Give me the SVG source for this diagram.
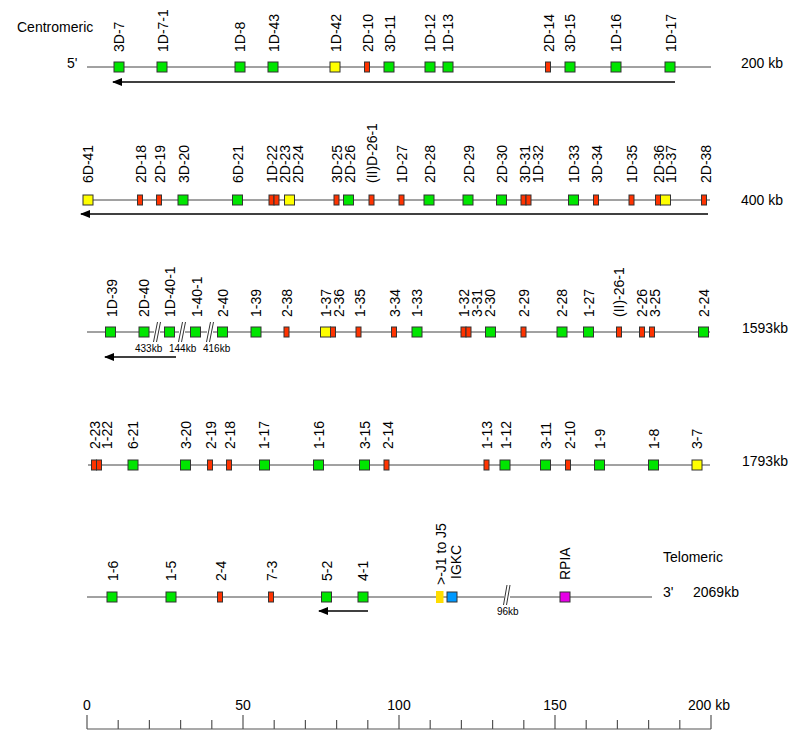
<svg xmlns="http://www.w3.org/2000/svg" width="798" height="742" viewBox="0 0 798 742">
<defs>
<style>
text{font-family:"Liberation Sans",Arial,sans-serif;font-size:14px;fill:#000}
.s{font-size:10px}
.ln{stroke:#444;stroke-width:1;fill:none}
.g{fill:#00e600;stroke:#333;stroke-width:1}
.r{fill:#ff3300;stroke:#333;stroke-width:1}
.y{fill:#ffff00;stroke:#333;stroke-width:1}
.b{fill:#0099ff;stroke:#333;stroke-width:1}
.m{fill:#e600e6;stroke:#333;stroke-width:1}
.arr{stroke:#000;stroke-width:1.6;fill:none}
.brk{stroke:#333;stroke-width:1;fill:none}
.tick{stroke:#555;stroke-width:1.2}
</style>
<marker id="ah" viewBox="0 0 10 8" refX="9" refY="4" markerWidth="10" markerHeight="8" markerUnits="userSpaceOnUse" orient="auto">
<path d="M0,0 L10,4 L0,8 z" fill="#000"/>
</marker>
</defs>
<rect width="798" height="742" fill="#fff"/>

<g id="titles">
<text x="17" y="32">Centromeric</text>
<text x="67" y="68">5'</text>
<text x="741" y="68">200 kb</text>
<text x="741" y="205">400 kb</text>
<text x="742" y="333">1593kb</text>
<text x="742" y="466">1793kb</text>
<text x="663" y="562">Telomeric</text>
<text x="663" y="597">3'</text>
<text x="693" y="597">2069kb</text>
</g>

<g id="connectors">
<line class="ln" x1="87" y1="67" x2="711" y2="67"/>
<line class="ln" x1="87" y1="200" x2="710" y2="200"/>
<line class="ln" x1="87" y1="332" x2="710" y2="332"/>
<line class="ln" x1="88" y1="465" x2="710" y2="465"/>
<line class="ln" x1="87" y1="597" x2="652" y2="597"/>
<line class="arr" x1="675" y1="82" x2="113" y2="82" marker-end="url(#ah)"/>
<line class="arr" x1="708" y1="214" x2="81" y2="214" marker-end="url(#ah)"/>
<line class="arr" x1="176" y1="357" x2="105" y2="357" marker-end="url(#ah)"/>
<line class="arr" x1="368" y1="611" x2="319" y2="611" marker-end="url(#ah)"/>
</g>

<g id="breaks">
<rect x="154" y="326" width="6" height="12" fill="#fff"/>
<path class="brk" d="M153.5,342 L157.5,322 M156.5,342 L160.5,322"/>
<rect x="179" y="326" width="6" height="12" fill="#fff"/>
<path class="brk" d="M178.5,342 L182.5,322 M181.5,342 L185.5,322"/>
<rect x="207" y="326" width="6" height="12" fill="#fff"/>
<path class="brk" d="M206.5,342 L210.5,322 M209.5,342 L213.5,322"/>
<rect x="504" y="591" width="6" height="12" fill="#fff"/>
<path class="brk" d="M503.5,605 L507,585 M506.5,605 L510,585"/>
<text class="s" x="135" y="352">433kb</text>
<text class="s" x="169" y="352">144kb</text>
<text class="s" x="203" y="352">416kb</text>
<text class="s" x="497" y="615">96kb</text>
</g>

<g id="row1">
<rect class="g" x="114" y="62" width="10" height="10"/>
<rect class="g" x="157" y="62" width="10" height="10"/>
<rect class="g" x="235" y="62" width="10" height="10"/>
<rect class="g" x="268" y="62" width="10" height="10"/>
<rect class="y" x="330" y="62" width="10" height="10"/>
<rect class="r" x="364.5" y="62" width="5" height="10"/>
<rect class="g" x="384" y="62" width="10" height="10"/>
<rect class="g" x="425" y="62" width="10" height="10"/>
<rect class="g" x="443" y="62" width="10" height="10"/>
<rect class="r" x="545.5" y="62" width="5" height="10"/>
<rect class="g" x="565" y="62" width="10" height="10"/>
<rect class="g" x="611" y="62" width="10" height="10"/>
<rect class="g" x="665" y="62" width="10" height="10"/>
<text transform="translate(124,52) rotate(-90)">3D-7</text>
<text transform="translate(167.5,52) rotate(-90)">1D-7-1</text>
<text transform="translate(245,52) rotate(-90)">1D-8</text>
<text transform="translate(278.5,52) rotate(-90)">1D-43</text>
<text transform="translate(340.5,52) rotate(-90)">1D-42</text>
<text transform="translate(372.5,52) rotate(-90)">2D-10</text>
<text transform="translate(394.5,52) rotate(-90)">3D-11</text>
<text transform="translate(435,52) rotate(-90)">1D-12</text>
<text transform="translate(452.5,52) rotate(-90)">1D-13</text>
<text transform="translate(553.5,52) rotate(-90)">2D-14</text>
<text transform="translate(575,52) rotate(-90)">3D-15</text>
<text transform="translate(620.5,52) rotate(-90)">1D-16</text>
<text transform="translate(675.5,52) rotate(-90)">1D-17</text>
</g>

<g id="row2">
<rect class="y" x="83" y="195" width="10" height="10"/>
<rect class="r" x="137.5" y="195" width="5" height="10"/>
<rect class="r" x="156.5" y="195" width="5" height="10"/>
<rect class="g" x="178" y="195" width="10" height="10"/>
<rect class="g" x="232.5" y="195" width="10" height="10"/>
<rect class="r" x="269" y="195" width="5" height="10"/>
<rect class="r" x="274" y="195" width="5" height="10"/>
<rect class="y" x="284.5" y="195" width="10" height="10"/>
<rect class="r" x="334" y="195" width="5" height="10"/>
<rect class="g" x="343.5" y="195" width="10" height="10"/>
<rect class="r" x="369" y="195" width="5" height="10"/>
<rect class="r" x="399" y="195" width="5" height="10"/>
<rect class="g" x="424" y="195" width="10" height="10"/>
<rect class="g" x="463" y="195" width="10" height="10"/>
<rect class="g" x="496.5" y="195" width="10" height="10"/>
<rect class="r" x="521" y="195" width="5" height="10"/>
<rect class="r" x="526" y="195" width="5" height="10"/>
<rect class="g" x="568.5" y="195" width="10" height="10"/>
<rect class="r" x="593.5" y="195" width="5" height="10"/>
<rect class="r" x="629" y="195" width="5" height="10"/>
<rect class="r" x="655.5" y="195" width="5" height="10"/>
<rect class="y" x="660.5" y="195" width="10" height="10"/>
<rect class="r" x="701.5" y="195" width="5" height="10"/>
<text transform="translate(93,183) rotate(-90)">6D-41</text>
<text transform="translate(145.5,183) rotate(-90)">2D-18</text>
<text transform="translate(164.5,183) rotate(-90)">2D-19</text>
<text transform="translate(188.5,183) rotate(-90)">3D-20</text>
<text transform="translate(242.5,183) rotate(-90)">6D-21</text>
<text transform="translate(276.5,183) rotate(-90)">1D-22</text>
<text transform="translate(289.5,183) rotate(-90)">2D-23</text>
<text transform="translate(302.5,183) rotate(-90)">2D-24</text>
<text transform="translate(342,183) rotate(-90)">3D-25</text>
<text transform="translate(354.5,183) rotate(-90)">2D-26</text>
<text transform="translate(376.5,183) rotate(-90)">(II)D-26-1</text>
<text transform="translate(407,183) rotate(-90)">1D-27</text>
<text transform="translate(434.5,183) rotate(-90)">2D-28</text>
<text transform="translate(473.5,183) rotate(-90)">2D-29</text>
<text transform="translate(506.5,183) rotate(-90)">2D-30</text>
<text transform="translate(530,183) rotate(-90)">3D-31</text>
<text transform="translate(542.5,183) rotate(-90)">1D-32</text>
<text transform="translate(578.5,183) rotate(-90)">1D-33</text>
<text transform="translate(602,183) rotate(-90)">3D-34</text>
<text transform="translate(637,183) rotate(-90)">1D-35</text>
<text transform="translate(663.5,183) rotate(-90)">2D-36</text>
<text transform="translate(676,183) rotate(-90)">1D-37</text>
<text transform="translate(710.5,183) rotate(-90)">2D-38</text>
</g>

<g id="row3">
<rect class="g" x="105.5" y="327" width="10" height="10"/>
<rect class="g" x="139" y="327" width="10" height="10"/>
<rect class="g" x="164.5" y="327" width="10" height="10"/>
<rect class="g" x="190.5" y="327" width="10" height="10"/>
<rect class="g" x="217.5" y="327" width="10" height="10"/>
<rect class="g" x="251" y="327" width="10" height="10"/>
<rect class="r" x="284" y="327" width="5" height="10"/>
<rect class="y" x="320.5" y="327" width="10" height="10"/>
<rect class="r" x="330.5" y="327" width="5" height="10"/>
<rect class="r" x="356" y="327" width="5" height="10"/>
<rect class="r" x="391.5" y="327" width="5" height="10"/>
<rect class="g" x="412" y="327" width="10" height="10"/>
<rect class="r" x="461" y="327" width="5" height="10"/>
<rect class="r" x="466" y="327" width="5" height="10"/>
<rect class="g" x="485.5" y="327" width="10" height="10"/>
<rect class="r" x="521" y="327" width="5" height="10"/>
<rect class="g" x="557" y="327" width="10" height="10"/>
<rect class="g" x="583.5" y="327" width="10" height="10"/>
<rect class="r" x="616.5" y="327" width="5" height="10"/>
<rect class="r" x="639.5" y="327" width="5" height="10"/>
<rect class="r" x="649.5" y="327" width="5" height="10"/>
<rect class="g" x="698.5" y="327" width="10" height="10"/>
<text transform="translate(116.5,317) rotate(-90)">1D-39</text>
<text transform="translate(149,317) rotate(-90)">2D-40</text>
<text transform="translate(174.5,317) rotate(-90)">1D-40-1</text>
<text transform="translate(201.5,317) rotate(-90)">1-40-1</text>
<text transform="translate(227.5,317) rotate(-90)">2-40</text>
<text transform="translate(261,317) rotate(-90)">1-39</text>
<text transform="translate(292,317) rotate(-90)">2-38</text>
<text transform="translate(331,317) rotate(-90)">1-37</text>
<text transform="translate(343.5,317) rotate(-90)">2-36</text>
<text transform="translate(364.5,317) rotate(-90)">1-35</text>
<text transform="translate(399.5,317) rotate(-90)">3-34</text>
<text transform="translate(422,317) rotate(-90)">1-33</text>
<text transform="translate(468.5,317) rotate(-90)">1-32</text>
<text transform="translate(481.5,317) rotate(-90)">3-31</text>
<text transform="translate(494.5,317) rotate(-90)">2-30</text>
<text transform="translate(528.5,317) rotate(-90)">2-29</text>
<text transform="translate(567,317) rotate(-90)">2-28</text>
<text transform="translate(593.5,317) rotate(-90)">1-27</text>
<text transform="translate(623.5,317) rotate(-90)">(II)-26-1</text>
<text transform="translate(647,317) rotate(-90)">2-26</text>
<text transform="translate(659.5,317) rotate(-90)">3-25</text>
<text transform="translate(708.5,317) rotate(-90)">2-24</text>
</g>

<g id="row4">
<rect class="r" x="91.5" y="460" width="5" height="10"/>
<rect class="r" x="96.5" y="460" width="5" height="10"/>
<rect class="g" x="128" y="460" width="10" height="10"/>
<rect class="g" x="180.5" y="460" width="10" height="10"/>
<rect class="r" x="207.5" y="460" width="5" height="10"/>
<rect class="r" x="226.5" y="460" width="5" height="10"/>
<rect class="g" x="259.5" y="460" width="10" height="10"/>
<rect class="g" x="313.5" y="460" width="10" height="10"/>
<rect class="g" x="359.5" y="460" width="10" height="10"/>
<rect class="r" x="384" y="460" width="5" height="10"/>
<rect class="r" x="484" y="460" width="5" height="10"/>
<rect class="g" x="500" y="460" width="10" height="10"/>
<rect class="g" x="540.5" y="460" width="10" height="10"/>
<rect class="r" x="565.5" y="460" width="5" height="10"/>
<rect class="g" x="594.5" y="460" width="10" height="10"/>
<rect class="g" x="648.5" y="460" width="10" height="10"/>
<rect class="y" x="692" y="460" width="10" height="10"/>
<text transform="translate(99.5,449) rotate(-90)">2-23</text>
<text transform="translate(112,449) rotate(-90)">1-22</text>
<text transform="translate(138,449) rotate(-90)">6-21</text>
<text transform="translate(190.5,449) rotate(-90)">3-20</text>
<text transform="translate(216,449) rotate(-90)">2-19</text>
<text transform="translate(235,449) rotate(-90)">2-18</text>
<text transform="translate(269,449) rotate(-90)">1-17</text>
<text transform="translate(323.5,449) rotate(-90)">1-16</text>
<text transform="translate(369.5,449) rotate(-90)">3-15</text>
<text transform="translate(393,449) rotate(-90)">2-14</text>
<text transform="translate(492,449) rotate(-90)">1-13</text>
<text transform="translate(510.5,449) rotate(-90)">1-12</text>
<text transform="translate(550.5,449) rotate(-90)">3-11</text>
<text transform="translate(575,449) rotate(-90)">2-10</text>
<text transform="translate(604.5,449) rotate(-90)">1-9</text>
<text transform="translate(658.5,449) rotate(-90)">1-8</text>
<text transform="translate(702,449) rotate(-90)">3-7</text>
</g>

<g id="row5">
<rect class="g" x="107" y="592" width="10" height="10"/>
<rect class="g" x="166" y="592" width="10" height="10"/>
<rect class="r" x="217.5" y="592" width="5" height="10"/>
<rect class="r" x="268.5" y="592" width="5" height="10"/>
<rect class="g" x="321.5" y="592" width="10" height="10"/>
<rect class="g" x="358" y="592" width="10" height="10"/>
<rect x="436" y="591" width="7.5" height="12" fill="#ffdd00"/>
<rect class="b" x="447" y="592" width="10" height="10"/>
<rect class="m" x="560" y="592" width="10" height="10"/>
<text transform="translate(117.5,581) rotate(-90)">1-6</text>
<text transform="translate(176,581) rotate(-90)">1-5</text>
<text transform="translate(226,581) rotate(-90)">2-4</text>
<text transform="translate(276.5,581) rotate(-90)">7-3</text>
<text transform="translate(332,581) rotate(-90)">5-2</text>
<text transform="translate(368,581) rotate(-90)">4-1</text>
<text transform="translate(446,585) rotate(-90)">&gt;-J1 to J5</text>
<text transform="translate(461,579) rotate(-90)">IGKC</text>
<text transform="translate(570,580) rotate(-90)">RPIA</text>
</g>

<g id="scale">
<line class="tick" x1="87" y1="729" x2="711" y2="729"/>
<path class="tick" d="M87,715V729 M118.2,720V729 M149.4,720V729 M180.6,720V729 M211.8,720V729 M243,715V729 M274.2,720V729 M305.4,720V729 M336.6,720V729 M367.8,720V729 M399,715V729 M430.2,720V729 M461.4,720V729 M492.6,720V729 M523.8,720V729 M555,715V729 M586.2,720V729 M617.4,720V729 M648.6,720V729 M679.8,720V729 M711,715V729"/>
<text x="87" y="710" text-anchor="middle">0</text>
<text x="243" y="710" text-anchor="middle">50</text>
<text x="399" y="710" text-anchor="middle">100</text>
<text x="555" y="710" text-anchor="middle">150</text>
<text x="688" y="710">200 kb</text>
</g>
</svg>
